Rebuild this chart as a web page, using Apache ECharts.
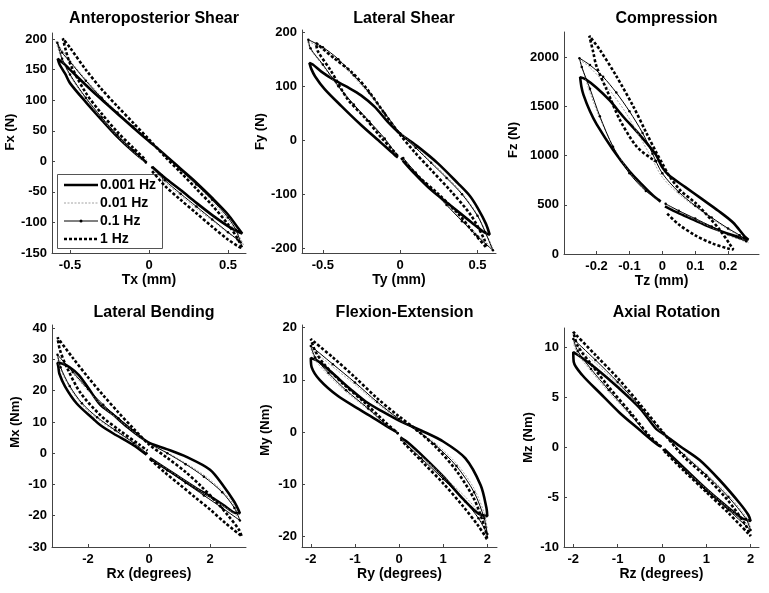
<!DOCTYPE html>
<html><head><meta charset="utf-8">
<script src="https://cdn.jsdelivr.net/npm/echarts@6.0.0/dist/echarts.min.js"></script>
<style>html,body{margin:0;padding:0;background:#fff}#c{width:769px;height:593px}</style>
</head><body><div id="c"></div>
<script>
// ---------- categories & labels ----------
const frequencies = ['0.001 Hz', '0.01 Hz', '0.1 Hz', '1 Hz'];
const panelTitles = ['Anteroposterior Shear', 'Lateral Shear', 'Compression', 'Lateral Bending', 'Flexion-Extension', 'Axial Rotation'];
const xNames = ['Tx (mm)', 'Ty (mm)', 'Tz (mm)', 'Rx (degrees)', 'Ry (degrees)', 'Rz (degrees)'];
const yNames = ['Fx (N)', 'Fy (N)', 'Fz (N)', 'Mx (Nm)', 'My (Nm)', 'Mz (Nm)'];

// ---------- tick labels ----------
const xTicks = [[-0.5, 0, 0.5], [-0.5, 0, 0.5], [-0.2, -0.1, 0, 0.1, 0.2], [-2, 0, 2], [-2, -1, 0, 1, 2], [-2, -1, 0, 1, 2]];
const yTicks = [[-150, -100, -50, 0, 50, 100, 150, 200], [-200, -100, 0, 100, 200], [0, 500, 1000, 1500, 2000],
  [-30, -20, -10, 0, 10, 20, 30, 40], [-20, -10, 0, 10, 20], [-10, -5, 0, 5, 10]];
const xRanges = [[-0.614, 0.614], [-0.635, 0.62], [-0.299, 0.294], [-3.18, 3.18], [-2.2, 2.22], [-2.21, 2.19]];
const yRanges = [[-150, 210], [-209, 204], [0, 2256], [-30, 41], [-22, 20.5], [-10, 11.9]];

// ---------- series values ----------
// Anteroposterior Shear (Tx mm, Fx N)
const ap_0001 = [[0.02,-9],[0.1,-27],[0.2,-47],[0.3,-68],[0.4,-88],[0.5,-106],[0.57,-116],[0.59,-118],
 [0.56,-108],[0.5,-87],[0.4,-60],[0.3,-35],[0.2,-12],[0.1,11],[0,33],
 [-0.1,55],[-0.2,78],[-0.3,101],[-0.4,125],[-0.5,150],[-0.54,160],[-0.578,168],
 [-0.565,158],[-0.53,143],[-0.5,128],[-0.4,97],[-0.3,68],[-0.2,40],[-0.1,16],[-0.015,-2]];
const ap_001 = [[0.02,-13],[0.1,-34],[0.2,-56],[0.3,-77],[0.4,-97],[0.5,-117],[0.57,-130],[0.6,-137],
 [0.56,-118],[0.5,-96],[0.4,-66],[0.3,-40],[0.2,-15],[0.1,10],[0,34],
 [-0.1,58],[-0.2,81],[-0.3,106],[-0.4,134],[-0.5,165],[-0.55,182],[-0.59,197],
 [-0.56,172],[-0.5,140],[-0.4,102],[-0.3,70],[-0.2,41],[-0.1,16],[-0.02,-3]];
const ap_01 = [[0.02,-10],[0.1,-31],[0.2,-53],[0.3,-74],[0.4,-95],[0.5,-116],[0.56,-128],[0.58,-133],
 [0.55,-112],[0.5,-92],[0.4,-63],[0.3,-38],[0.2,-14],[0.1,10],[0,34],
 [-0.1,57],[-0.2,80],[-0.3,104],[-0.4,132],[-0.5,163],[-0.55,178],[-0.58,194],
 [-0.55,168],[-0.5,142],[-0.4,104],[-0.3,72],[-0.2,43],[-0.1,18],[-0.02,-2]];
const ap_1 = [[0.02,-16],[0.1,-40],[0.2,-63],[0.3,-85],[0.4,-107],[0.5,-128],[0.57,-140],[0.59,-142],
 [0.56,-126],[0.5,-103],[0.4,-72],[0.3,-45],[0.2,-18],[0.1,8],[0,36],
 [-0.1,63],[-0.2,90],[-0.3,118],[-0.4,150],[-0.5,186],[-0.545,201],
 [-0.53,185],[-0.5,160],[-0.4,112],[-0.3,78],[-0.2,48],[-0.1,22],[-0.02,2]];

// Lateral Shear (Ty mm, Fy N)
const ls_0001 = [[0.017,-38],[0.07,-55],[0.2,-92],[0.33,-122],[0.46,-152],[0.546,-171],[0.579,-175],
 [0.555,-155],[0.5,-125],[0.45,-103],[0.374,-80],[0.244,-43],[0.114,-12],[0,12],
 [-0.08,34],[-0.166,62],[-0.253,83],[-0.34,98],[-0.425,111],[-0.51,127],[-0.565,140],[-0.587,143],
 [-0.575,132],[-0.55,118],[-0.49,95],[-0.38,63],[-0.253,28],[-0.123,-5],[-0.037,-27],[-0.015,-32]];
const ls_001 = [[0.02,-33],[0.1,-60],[0.2,-90],[0.3,-120],[0.4,-148],[0.5,-175],[0.6,-200],
 [0.56,-175],[0.5,-138],[0.4,-98],[0.3,-67],[0.2,-40],[0.1,-12],[0,14],
 [-0.1,48],[-0.2,85],[-0.3,117],[-0.4,146],[-0.5,168],[-0.6,184],
 [-0.58,168],[-0.5,138],[-0.4,98],[-0.3,64],[-0.2,33],[-0.1,1],[-0.02,-29]];
const ls_01 = [[0.02,-33],[0.1,-60],[0.2,-90],[0.3,-120],[0.4,-150],[0.5,-178],[0.6,-204],
 [0.55,-170],[0.5,-140],[0.4,-100],[0.3,-70],[0.2,-42],[0.1,-14],[0,13],
 [-0.1,50],[-0.2,88],[-0.3,120],[-0.4,150],[-0.5,172],[-0.594,186],
 [-0.58,170],[-0.5,140],[-0.4,100],[-0.3,66],[-0.2,35],[-0.1,3],[-0.02,-28]];
const ls_1 = [[0.006,-33],[0.114,-66],[0.244,-99],[0.374,-136],[0.48,-173],[0.557,-199],
 [0.546,-185],[0.46,-140],[0.33,-95],[0.2,-55],[0.093,-22],[0,10],
 [-0.1,49],[-0.21,93],[-0.317,127],[-0.425,151],[-0.544,180],
 [-0.533,165],[-0.447,128],[-0.34,76],[-0.23,42],[-0.123,5],[-0.037,-22],[-0.015,-30]];

// Compression (Tz mm, Fz N)
const cp_0001 = [[0.008,485],[0.04,430],[0.08,370],[0.13,295],[0.18,230],[0.22,185],[0.262,145],
 [0.25,180],[0.215,320],[0.17,440],[0.12,560],[0.07,680],[0.02,800],[0,880],
 [-0.02,1010],[-0.07,1215],[-0.12,1400],[-0.16,1560],[-0.2,1690],[-0.235,1780],[-0.25,1797],
 [-0.246,1700],[-0.24,1620],[-0.22,1450],[-0.2,1320],[-0.15,1060],[-0.1,840],[-0.06,700],[-0.03,600],[-0.005,532]];
const cp_001 = [[0.01,500],[0.05,430],[0.1,350],[0.15,270],[0.2,190],[0.262,115],
 [0.24,170],[0.2,250],[0.15,360],[0.1,480],[0.05,610],[0,780],
 [-0.03,960],[-0.07,1200],[-0.11,1430],[-0.15,1620],[-0.19,1790],[-0.225,1910],[-0.25,1970],
 [-0.24,1850],[-0.22,1640],[-0.19,1380],[-0.15,1100],[-0.1,830],[-0.05,640],[-0.01,545]];
const cp_01 = [[0.01,510],[0.05,440],[0.1,360],[0.15,280],[0.2,200],[0.255,130],
 [0.235,190],[0.2,260],[0.15,370],[0.1,490],[0.05,630],[0,820],
 [-0.03,1020],[-0.06,1230],[-0.1,1450],[-0.14,1640],[-0.18,1800],[-0.22,1920],[-0.252,1990],
 [-0.245,1900],[-0.22,1680],[-0.19,1400],[-0.15,1090],[-0.1,820],[-0.05,640],[-0.01,550]];
const cp_1 = [[0.015,410],[0.05,300],[0.1,190],[0.15,110],[0.2,55],[0.216,45],
 [0.205,100],[0.175,244],[0.135,400],[0.1,520],[0.054,650],[0.02,800],[0,920],
 [-0.017,1024],[-0.048,1227],[-0.088,1498],[-0.139,1803],[-0.19,2075],[-0.222,2217],
 [-0.21,2050],[-0.2,1905],[-0.169,1668],[-0.129,1363],[-0.078,1092],[-0.027,956],[-0.01,930]];

// Lateral Bending (Rx deg, Mx Nm)
const lb_0001 = [[0.03,-1.6],[0.25,-3],[0.91,-7.2],[1.56,-11.3],[2.0,-13.8],[2.44,-16.6],[2.77,-18.9],[2.98,-19.2],
 [2.9,-17.5],[2.8,-15.6],[2.44,-10.5],[2.0,-5.3],[1.23,-1.2],[0.58,1.3],[0.03,3.2],
 [-0.3,5.3],[-0.7,8.3],[-1.2,12.5],[-1.6,15.5],[-2,21],[-2.3,25],[-2.6,27.5],[-2.85,28.7],[-3.0,28.9],
 [-2.97,27.5],[-2.94,25.5],[-2.75,21.3],[-2.37,15.9],[-1.83,11],[-1.6,9],[-1.17,6.3],[-0.51,2.6],[-0.08,-0.5]];
const lb_001 = [[0.05,-1.8],[0.6,-5.2],[1.2,-9],[1.8,-12.8],[2.4,-16.6],[2.95,-20.5],
 [2.8,-16.8],[2.4,-12],[1.8,-7],[1.2,-3.2],[0.6,0.2],[0,3],
 [-0.5,6.8],[-1,10.8],[-1.5,14.8],[-2,20],[-2.5,25.5],[-3.0,30.5],
 [-2.9,26.8],[-2.6,21],[-2.2,15.5],[-1.7,11],[-1.1,7],[-0.5,3.1],[-0.08,0]];
const lb_01 = [[0.05,-2],[0.6,-5.5],[1.2,-9.5],[1.8,-13.5],[2.4,-17.5],[2.98,-21.5],
 [2.8,-17.5],[2.4,-12.5],[1.8,-7.5],[1.2,-3.5],[0.6,0],[0,3.3],
 [-0.5,7.3],[-1,11.2],[-1.5,15.5],[-2,20.5],[-2.5,26],[-3.0,31.5],
 [-2.9,27.5],[-2.6,21.5],[-2.2,16],[-1.7,11.5],[-1.1,7.3],[-0.5,3.3],[-0.08,0]];
const lb_1 = [[0.05,-2],[0.5,-6],[1,-10],[1.5,-14],[2,-18],[2.5,-22.3],[3.04,-26.6],
 [2.95,-24.5],[2.6,-20],[2.2,-15.5],[1.7,-10.5],[1.2,-6],[0.6,-1.5],[0,2.8],
 [-0.5,7.8],[-1,13],[-1.5,18.5],[-2,24.3],[-2.5,30.5],[-3.0,37],
 [-2.92,33],[-2.7,27.6],[-2.26,19.5],[-1.6,12.2],[-0.95,7.2],[-0.3,2.6],[-0.05,0.8]];

// Flexion-Extension (Ry deg, My Nm)
const fe_0001 = [[0.03,-1],[0.2,-2],[0.55,-4.7],[1.0,-8.5],[1.45,-12.8],[1.8,-15.6],[2.0,-16.1],
 [1.98,-14.5],[1.85,-10.2],[1.5,-5],[1.0,-1.8],[0.5,0.3],[0,2.2],
 [-0.35,3.8],[-0.75,5.8],[-1.1,8.2],[-1.5,11.2],[-1.8,13.4],[-2,14.2],
 [-1.98,12.4],[-1.8,10],[-1.4,7],[-0.95,4.6],[-0.5,2.3],[-0.2,0.7],[-0.05,0]];
const fe_001 = [[0.05,-1.3],[0.5,-4.6],[1,-8.4],[1.5,-12.4],[1.8,-15.3],[2,-18.5],
 [1.93,-15.5],[1.7,-10.8],[1.3,-6],[0.8,-2],[0.4,0.4],[0,2.4],
 [-0.5,5.5],[-1,9.1],[-1.5,12.5],[-2,16],
 [-1.9,13.8],[-1.6,10.9],[-1.2,7.7],[-0.7,4.3],[-0.3,1.4],[-0.03,-0.1]];
const fe_01 = [[0.05,-1.5],[0.5,-5],[1,-9],[1.5,-13.3],[1.8,-16.5],[2,-19.5],
 [1.93,-16.5],[1.7,-11.5],[1.3,-6.5],[0.8,-2.3],[0.4,0.3],[0,2.5],
 [-0.5,5.8],[-1,9.5],[-1.5,13],[-2,16.5],
 [-1.9,14.3],[-1.6,11.3],[-1.2,8],[-0.7,4.5],[-0.3,1.5],[-0.03,-0.2]];
const fe_1 = [[0.1,-2],[0.55,-5.9],[1,-9.8],[1.45,-14.2],[1.8,-18],[2,-20.6],
 [1.95,-18.5],[1.7,-12.8],[1.3,-7.4],[0.85,-3],[0.4,0.4],[0,3],
 [-0.5,6.5],[-1,10.5],[-1.5,14.3],[-2,17.8],
 [-1.9,15.5],[-1.7,13],[-1.3,9.5],[-0.8,5.8],[-0.3,1.8],[-0.02,-0.3]];

// Axial Rotation (Rz deg, Mz Nm)
const ar_0001 = [[0.05,-0.2],[0.5,-2.1],[1,-4.2],[1.45,-5.9],[1.8,-7.1],[2,-7.4],
 [1.95,-6.8],[1.75,-5.6],[1.3,-3.3],[0.85,-1.3],[0.4,0.1],[0,1.4],
 [-0.13,1.8],[-0.5,3.9],[-1.0,6.0],[-1.5,7.9],[-1.8,8.9],[-2,9.5],
 [-1.99,8.5],[-1.8,7.2],[-1.4,5.4],[-0.95,3.4],[-0.5,1.7],[-0.15,0.4],[-0.05,0.1]];
const ar_001 = [[0.04,-0.3],[0.5,-2.2],[1,-4.2],[1.5,-6.1],[2,-8.0],
 [1.9,-7],[1.5,-4.8],[1,-2.7],[0.5,-0.7],[0,1.4],
 [-0.5,4],[-1,6.3],[-1.5,8.4],[-2,10.4],
 [-1.9,9.3],[-1.6,7.6],[-1.2,5.5],[-0.7,3.1],[-0.3,1.1],[-0.03,0.1]];
const ar_01 = [[0.04,-0.3],[0.5,-2.3],[1,-4.4],[1.5,-6.3],[2,-8.3],
 [1.9,-7.2],[1.5,-5],[1,-2.8],[0.5,-0.8],[0,1.5],
 [-0.5,4.1],[-1,6.5],[-1.5,8.7],[-2,10.8],
 [-1.9,9.6],[-1.6,7.8],[-1.2,5.7],[-0.7,3.2],[-0.3,1.1],[-0.03,0.1]];
const ar_1 = [[0.05,-0.4],[0.5,-2.4],[1,-4.5],[1.5,-6.6],[2,-8.9],
 [1.9,-7.9],[1.5,-5.4],[1,-3],[0.5,-1],[0,1.6],
 [-0.5,4.3],[-1,6.9],[-1.5,9.2],[-2,11.5],
 [-1.9,10.1],[-1.6,8.3],[-1.2,6],[-0.7,3.4],[-0.3,1.2],[-0.02,0]];

const panelData = [
  [ap_0001, ap_001, ap_01, ap_1],
  [ls_0001, ls_001, ls_01, ls_1],
  [cp_0001, cp_001, cp_01, cp_1],
  [lb_0001, lb_001, lb_01, lb_1],
  [fe_0001, fe_001, fe_01, fe_1],
  [ar_0001, ar_001, ar_01, ar_1]
];

// ---------- layout & styles ----------
const FONT = '"Liberation Sans", Arial, sans-serif';
const gridBoxes = [[52,33,194,220],[302,30,194,223],[564,32,195,222],[52,325,194,222],[302,325,195,222],[564,328,195,219]];
const yNameGaps = [30, 30, 44, 30, 30, 29];
const yNameShift = [22, 20, 6, 28, 12, 0];
const freqStyles = [
  { lineStyle: { color: '#000', width: 2.6, type: 'solid' }, symbol: 'none' },
  { lineStyle: { color: '#8c8c8c', width: 0.8, type: [2, 1.5] }, symbol: 'none' },
  { lineStyle: { color: '#000', width: 1, type: 'solid' }, symbol: 'circle', symbolSize: 2.5, itemStyle: { color: '#000' } },
  { lineStyle: { color: '#000', width: 2.6, type: [3, 2] }, symbol: 'none' }
];
const axisColor = '#444';

const grids = [], xAxes = [], yAxes = [], titles = [], series = [];
gridBoxes.forEach((g, p) => {
  grids.push({ left: g[0], top: g[1], width: g[2], height: g[3], containLabel: false });
  titles.push({ text: panelTitles[p], left: g[0] + g[2] / 2, top: p < 3 ? 6 : 300, textAlign: 'center',
    textStyle: { fontFamily: FONT, fontWeight: 'bold', fontSize: 16, color: '#000' } });
  xAxes.push({ type: 'value', gridIndex: p, min: xRanges[p][0], max: xRanges[p][1],
    name: xNames[p], nameLocation: 'middle', nameGap: 20,
    nameTextStyle: { fontFamily: FONT, fontWeight: 'bold', fontSize: 14, color: '#000' },
    axisLine: { onZero: false, lineStyle: { color: axisColor, width: 1 } },
    axisTick: { inside: true, length: 3, customValues: xTicks[p], lineStyle: { color: axisColor } },
    axisLabel: { customValues: xTicks[p], margin: 6, formatter: v => String(v),
      fontFamily: FONT, fontWeight: 'bold', fontSize: 13, color: '#000' },
    splitLine: { show: false } });
  yAxes.push({ type: 'value', gridIndex: p, min: yRanges[p][0], max: yRanges[p][1],
    name: yNames[p], nameLocation: 'middle', nameGap: yNameGaps[p], nameRotate: 90,
    nameTextStyle: { fontFamily: FONT, fontWeight: 'bold', fontSize: 13, color: '#000',
      padding: [0, 0, 0, yNameShift[p]] },
    axisLine: { onZero: false, lineStyle: { color: axisColor, width: 1 } },
    axisTick: { inside: true, length: 3, customValues: yTicks[p], lineStyle: { color: axisColor } },
    axisLabel: { customValues: yTicks[p], margin: 5, formatter: v => String(v),
      fontFamily: FONT, fontWeight: 'bold', fontSize: 13, color: '#000' },
    splitLine: { show: false } });
  panelData[p].forEach((d, f) => {
    series.push(Object.assign({ type: 'line', name: frequencies[f], xAxisIndex: p, yAxisIndex: p,
      data: d, smooth: 0.3, z: 2 + f, silent: true, animation: false }, freqStyles[f]));
  });
});

// legend (drawn in the first panel)
const legRows = [185, 203, 221, 239];
const legendChildren = [{ type: 'rect', shape: { x: 57.5, y: 174.5, width: 105, height: 74 },
  style: { fill: '#fff', stroke: '#555', lineWidth: 1 } }];
frequencies.forEach((name, i) => {
  const ls = freqStyles[i].lineStyle;
  legendChildren.push({ type: 'line', shape: { x1: 64, y1: legRows[i], x2: 98, y2: legRows[i] },
    style: { stroke: ls.color, lineWidth: ls.width, lineDash: Array.isArray(ls.type) ? ls.type : null } });
  if (freqStyles[i].symbol === 'circle') {
    legendChildren.push({ type: 'circle', shape: { cx: 81, cy: legRows[i], r: 1.5 }, style: { fill: '#000' } });
  }
  legendChildren.push({ type: 'text', x: 100, y: legRows[i],
    style: { text: name, font: 'bold 14px ' + FONT, fill: '#000', verticalAlign: 'middle', textVerticalAlign: 'middle' } });
});

const chart = echarts.init(document.getElementById('c'), null, { renderer: 'canvas' });
chart.setOption({
  animation: false,
  backgroundColor: '#fff',
  textStyle: { fontFamily: FONT },
  title: titles,
  grid: grids,
  xAxis: xAxes,
  yAxis: yAxes,
  series: series,
  graphic: [{ type: 'group', z: 100, children: legendChildren }]
});
</script></body></html>
